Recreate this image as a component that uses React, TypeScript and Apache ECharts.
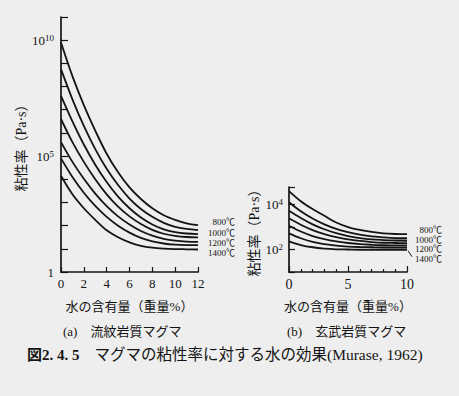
import React, { useEffect, useRef } from "react";
import * as echarts from "echarts";

// Water content (wt%) at which curves were read
const waterA = [0, 1, 2, 3, 4, 5, 6, 7, 8, 9, 10, 11, 12];
const waterB = [0, 1, 2, 3, 4, 5, 6, 7, 8, 9, 10];

const temps = ["800℃", "900℃", "1000℃", "1100℃", "1200℃", "1300℃", "1400℃"];
const labeledTemps = ["800℃", "1000℃", "1200℃", "1400℃"];

// (a) rhyolitic magma: log10 viscosity (Pa·s)
const logEtaA800 = [9.9, 8.45, 7.2, 6.1, 5.1, 4.3, 3.65, 3.15, 2.75, 2.45, 2.25, 2.1, 2.02];
const logEtaA900 = [8.75, 7.45, 6.3, 5.3, 4.45, 3.75, 3.17, 2.72, 2.38, 2.12, 1.95, 1.86, 1.81];
const logEtaA1000 = [7.6, 6.5, 5.5, 4.63, 3.88, 3.25, 2.75, 2.35, 2.05, 1.84, 1.72, 1.66, 1.63];
const logEtaA1100 = [6.6, 5.6, 4.75, 4.0, 3.35, 2.82, 2.4, 2.07, 1.82, 1.65, 1.56, 1.51, 1.49];
const logEtaA1200 = [5.6, 4.75, 4.02, 3.38, 2.84, 2.4, 2.05, 1.77, 1.57, 1.43, 1.35, 1.31, 1.3];
const logEtaA1300 = [4.9, 4.1, 3.42, 2.85, 2.38, 2.0, 1.7, 1.47, 1.32, 1.23, 1.18, 1.16, 1.16];
const logEtaA1400 = [4.15, 3.35, 2.75, 2.25, 1.8, 1.5, 1.28, 1.13, 1.05, 1.01, 0.99, 0.98, 0.97];

// (b) basaltic magma: log10 viscosity (Pa·s)
const logEtaB800 = [4.6, 4.15, 3.8, 3.5, 3.2, 3.0, 2.87, 2.78, 2.72, 2.69, 2.68];
const logEtaB900 = [4.1, 3.7, 3.38, 3.12, 2.92, 2.77, 2.66, 2.58, 2.54, 2.51, 2.5];
const logEtaB1000 = [3.72, 3.4, 3.12, 2.9, 2.73, 2.6, 2.51, 2.45, 2.42, 2.4, 2.39];
const logEtaB1100 = [3.39, 3.1, 2.86, 2.68, 2.55, 2.45, 2.38, 2.33, 2.3, 2.29, 2.28];
const logEtaB1200 = [3.06, 2.8, 2.6, 2.46, 2.36, 2.29, 2.24, 2.21, 2.19, 2.18, 2.18];
const logEtaB1300 = [2.72, 2.5, 2.34, 2.24, 2.17, 2.13, 2.11, 2.1, 2.09, 2.09, 2.09];
const logEtaB1400 = [2.36, 2.2, 2.1, 2.04, 2.01, 2.0, 1.99, 1.99, 1.99, 1.99, 1.99];

const seriesA = [logEtaA800, logEtaA900, logEtaA1000, logEtaA1100, logEtaA1200, logEtaA1300, logEtaA1400];
const seriesB = [logEtaB800, logEtaB900, logEtaB1000, logEtaB1100, logEtaB1200, logEtaB1300, logEtaB1400];

// labelled decades (exponents)
const yLabelExpA = [0, 5, 10];
const yLabelExpB = [2, 4];

const xNameText = "水の含有量（重量%）";
const yNameText = "粘性率（Pa·s）";
const subtitleA = "(a)　流紋岩質マグマ";
const subtitleB = "(b)　玄武岩質マグマ";
const captionFig = "図2. 4. 5";
const captionText = "マグマの粘性率に対する水の効果(Murase, 1962)";

const INK = "#141414";
const BG = "#eeeeee";
const FONT = "'Liberation Serif', 'Noto Sans CJK JP', serif";

function expFormatter(labels: number[]) {
  return (v: number) => {
    const e = Math.round(v);
    if (Math.abs(v - e) > 1e-6 || labels.indexOf(e) < 0) return "";
    if (e === 0) return "1";
    return "10{s|" + e + "}";
  };
}

const supRich = {
  s: { fontSize: 9, fontFamily: FONT, color: INK, verticalAlign: "top", padding: [0, 0, 5, 0] },
};

export default function App() {
  const ref = useRef<HTMLDivElement>(null);
  useEffect(() => {
    if (!ref.current) return;
    const chart = echarts.init(ref.current, null, { renderer: "svg" });

    const axisLine = { show: true, lineStyle: { color: INK, width: 1.7 } };
    const nameStyle = { color: INK, fontSize: 13, fontFamily: FONT };
    const yNameStyle = { color: INK, fontSize: 14, fontFamily: FONT };

    const makeSeries = (data: number[][], water: number[], idx: number, offsets: number[][]) =>
      data.map((vals, i) => {
        const t = temps[i];
        const li = labeledTemps.indexOf(t);
        return {
          type: "line",
          name: t,
          xAxisIndex: idx,
          yAxisIndex: idx,
          data: water.map((w, j) => [w, vals[j]]),
          smooth: 0.35,
          symbol: "none",
          silent: true,
          lineStyle: { color: INK, width: 1.8 },
          endLabel: {
            show: li >= 0,
            formatter: t,
            color: INK,
            fontSize: 9,
            lineHeight: 9,
            fontFamily: FONT,
            align: "right",
            offset: li >= 0 ? offsets[li] : [0, 0],
          },
        };
      });

    const option = {
      animation: false,
      backgroundColor: BG,
      grid: [
        { left: 61, top: 17, width: 137, height: 255, outerBoundsMode: "none" },
        { left: 289, top: 187, width: 118, height: 85, outerBoundsMode: "none" },
      ],
      xAxis: [
        {
          type: "value",
          gridIndex: 0,
          min: 0,
          max: 12,
          interval: 2,
          axisLine,
          axisTick: { show: true, inside: true, length: 5, lineStyle: { color: INK, width: 1.2 } },
          axisLabel: { color: INK, fontSize: 13, fontFamily: FONT, margin: 5 },
          splitLine: { show: false },
          name: xNameText,
          nameLocation: "middle",
          nameGap: 28,
          nameTextStyle: nameStyle,
        },
        {
          type: "value",
          gridIndex: 1,
          min: 0,
          max: 10,
          interval: 5,
          axisLine,
          axisTick: { show: true, inside: true, length: 6, lineStyle: { color: INK, width: 1.2 } },
          minorTick: { show: true, splitNumber: 5, length: 3, lineStyle: { color: INK, width: 1.2 } },
          axisLabel: { color: INK, fontSize: 14, fontFamily: FONT, margin: 5 },
          splitLine: { show: false },
          name: xNameText,
          nameLocation: "middle",
          nameGap: 28,
          nameTextStyle: nameStyle,
        },
      ],
      yAxis: [
        {
          type: "value",
          gridIndex: 0,
          min: 0,
          max: 11,
          interval: 1,
          axisLine,
          axisTick: { show: true, inside: true, length: 7, lineStyle: { color: INK, width: 1.2 } },
          axisLabel: {
            color: INK,
            fontSize: 13,
            fontFamily: FONT,
            margin: 7,
            formatter: expFormatter(yLabelExpA),
            rich: supRich,
          },
          splitLine: { show: false },
          name: yNameText,
          nameLocation: "middle",
          nameRotate: 90,
          nameGap: 33,
          nameTextStyle: yNameStyle,
        },
        {
          type: "value",
          gridIndex: 1,
          min: 1,
          max: 4.78,
          interval: 1,
          axisLine,
          axisTick: { show: true, inside: true, length: 6, lineStyle: { color: INK, width: 1.2 } },
          axisLabel: {
            color: INK,
            fontSize: 13,
            fontFamily: FONT,
            margin: 6,
            formatter: expFormatter(yLabelExpB),
            rich: supRich,
          },
          splitLine: { show: false },
          name: yNameText,
          nameLocation: "middle",
          nameRotate: 90,
          nameGap: 26,
          nameTextStyle: yNameStyle,
        },
      ],
      series: [
        ...makeSeries(seriesA, waterA, 0, [[29, -3], [29, -1], [29, 1], [29, 3]]),
        ...makeSeries(seriesB, waterB, 1, [[27, -4], [27, -1], [27, 3.5], [27, 9]]),
      ],
      graphic: [
        {
          id: "subA",
          type: "text",
          left: 63,
          top: 325,
          style: { text: subtitleA, fill: INK, font: "13px " + FONT },
        },
        {
          id: "subB",
          type: "text",
          left: 287,
          top: 325,
          style: { text: subtitleB, fill: INK, font: "13px " + FONT },
        },
        {
          id: "caption",
          type: "text",
          left: 27,
          top: 347,
          style: {
            text: "{f|" + captionFig + "}　{c|" + captionText + "}",
            fill: INK,
            font: "15px " + FONT,
            rich: {
              f: { fontSize: 15, fontWeight: "bold", fontFamily: FONT, fill: INK },
              c: { fontSize: 15.5, fontFamily: FONT, fill: INK },
            },
          },
        },
      ],
    };

    chart.setOption(option as any);

    // small leader from the 1400℃ basalt curve end to its label
    try {
      const lastB = waterB.length - 1;
      const end = chart.convertToPixel({ gridIndex: 1 } as any, [waterB[lastB], logEtaB1400[lastB]]) as number[];
      if (end && isFinite(end[0]) && isFinite(end[1])) {
        chart.setOption({
          graphic: [
            {
              id: "leader1400",
              type: "line",
              shape: { x1: end[0] + 1, y1: end[1] + 1, x2: end[0] + 5, y2: end[1] + 7 },
              style: { stroke: INK, lineWidth: 1 },
              silent: true,
            },
          ],
        } as any);
      }
    } catch (e) {
      // ignore
    }

    return () => chart.dispose();
  }, []);

  return (
    <div
      ref={ref}
      style={{ position: "fixed", left: 0, top: 0, width: 459, height: 396, background: BG }}
    />
  );
}
